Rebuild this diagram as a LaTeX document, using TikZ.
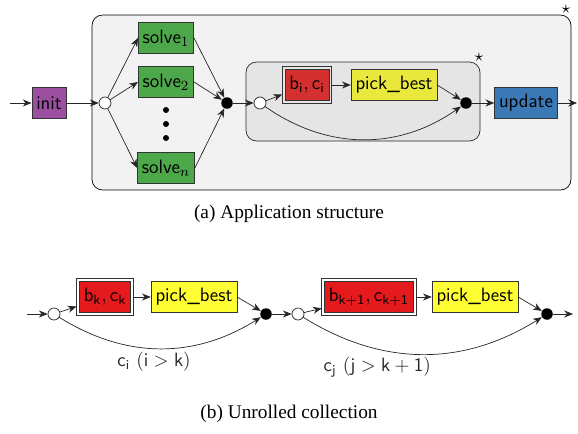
\documentclass[tikz,border=0pt]{standalone}
\usepackage{fontspec}
\setmainfont{Liberation Serif}
\usepackage{tikz}
\usetikzlibrary{arrows.meta,positioning,calc}
\usepackage{xcolor}
\definecolor{initpurple}{RGB}{154,79,160}
\definecolor{solvegreen}{RGB}{76,168,74}
\definecolor{fadedred}{RGB}{211,48,47}
\definecolor{fadedyellow}{RGB}{232,232,61}
\definecolor{updateblue}{RGB}{58,121,181}
\definecolor{brightred}{RGB}{228,26,28}
\definecolor{brightyellow}{RGB}{255,255,51}
\definecolor{outergrey}{RGB}{242,242,242}
\definecolor{innergrey}{RGB}{229,229,229}

\begin{document}
\begin{tikzpicture}[x=0.02cm, y=-0.02cm,
    >={Stealth[length=5pt,width=4pt]},
    every node/.style={font=\fontsize{11}{13}\selectfont},
    task/.style={draw=black!80, minimum height=0.62cm, inner xsep=2.5pt, font=\sffamily\fontsize{11}{13}\selectfont},
    pick/.style={task, outer sep=1.6pt,
        append after command={(\tikzlastnode.south west) edge[draw=black!80, to path={(\tikztostart) rectangle (\tikztotarget)}] (\tikzlastnode.north east)}},
    open/.style={circle, draw=black!85, fill=white, minimum size=0.24cm, inner sep=0pt},
    joindot/.style={circle, fill=black, minimum size=0.23cm, inner sep=0pt},
    dot/.style={circle, fill=black, minimum size=0.12cm, inner sep=0pt},
    mark star/.style={inner sep=0pt, font=\normalsize},
    edge/.style={->, black!85}]
    \useasboundingbox (0,0) rectangle (578,433);

    % (a) Application structure
    \draw[rounded corners=6pt, fill=outergrey] (92,15) rectangle (571,190);
    \node[mark star] (starouter) at (566,9) {$\star$};
    \draw[rounded corners=6pt, fill=innergrey, draw=black!85] (246,62) rectangle (480,141);
    \node[mark star] (starinner) at (479,57) {$\star$};

    \coordinate (start) at (10,103);
    \node[task, fill=initpurple] (init) at (49,103) {init};
    \node[open] (fork) at (105,103) {};
    \node[task, fill=solvegreen] (solve1) at (166,38) {solve$_1$};
    \node[task, fill=solvegreen] (solve2) at (166,82) {solve$_2$};
    \node[dot] (dot1) at (166,110) {};
    \node[dot] (dot2) at (166,124) {};
    \node[dot] (dot3) at (166,138) {};
    \node[task, fill=solvegreen] (solven) at (166,168) {solve$_n$};
    \node[joindot] (merge) at (227,103) {};

    \node[open] (loopfork) at (260,103) {};
    \node[pick, fill=fadedred] (bici) at (307,85) {$\mathsf{b}_{\mathsf{i}},\mathsf{c}_{\mathsf{i}}$};
    \node[task, fill=fadedyellow] (best) at (394,85) {pick\_best};
    \node[joindot] (loopjoin) at (466,103) {};
    \node[task, fill=updateblue] (update) at (526,103) {update};
    \coordinate (end) at (577,103);

    \draw[edge] (start) -- (init);
    \draw[edge] (init) -- (fork);
    \foreach \s in {solve1,solve2,solven} {
        \draw[edge] (fork) -- (\s.west);
        \draw[edge] (\s.east) -- (merge);
    }
    \draw[edge] (merge) -- (loopfork);
    \draw[edge] (loopfork) -- (bici);
    \draw[edge] (bici) -- (best);
    \draw[edge] (best.east) -- (loopjoin);
    \draw[edge] (loopfork) to[bend right=35] (loopjoin);
    \draw[edge] (loopjoin) -- (update);
    \draw[edge] (update) -- (end);

    \node (capa) at (289,214) {(a) Application structure};

    % (b) Unrolled collection
    \coordinate (startb) at (27,314);
    \node[open] (forkk) at (54,314) {};
    \node[pick, fill=brightred] (bkck) at (105,297) {$\mathsf{b}_{\mathsf{k}},\mathsf{c}_{\mathsf{k}}$};
    \node[task, fill=brightyellow] (bestk) at (194,297) {pick\_best};
    \node[joindot] (joink) at (266,314) {};
    \node[open] (forkkk) at (298,314) {};
    \node[pick, fill=brightred] (bkkck) at (369,297) {$\mathsf{b}_{\mathsf{k+1}},\mathsf{c}_{\mathsf{k+1}}$};
    \node[task, fill=brightyellow] (bestkk) at (475,297) {pick\_best};
    \node[joindot] (joinkk) at (547,314) {};
    \coordinate (endb) at (573,314);

    \draw[edge] (startb) -- (forkk);
    \draw[edge] (forkk) -- (bkck);
    \draw[edge] (bkck) -- (bestk);
    \draw[edge] (bestk.east) -- (joink);
    \draw[edge] (forkk) to[bend right=32]
        node[below=0pt, inner sep=2pt, pos=0.47, font=\sffamily\fontsize{11}{13}\selectfont] (skipk) {$\mathsf{c}_{\mathsf{i}}\ (\mathsf{i} > \mathsf{k})$} (joink);
    \draw[edge] (joink) -- (forkkk);
    \draw[edge] (forkkk) -- (bkkck);
    \draw[edge] (bkkck) -- (bestkk);
    \draw[edge] (bestkk.east) -- (joinkk);
    \draw[edge] (forkkk) to[bend right=32]
        node[below=1pt, pos=0.31, font=\sffamily\fontsize{11}{13}\selectfont] (skipkk) {$\mathsf{c}_{\mathsf{j}}\ (\mathsf{j} > \mathsf{k+1})$} (joinkk);
    \draw[edge] (joinkk) -- (endb);

    \node (capb) at (289,414) {(b) Unrolled collection};
\end{tikzpicture}
\end{document}
